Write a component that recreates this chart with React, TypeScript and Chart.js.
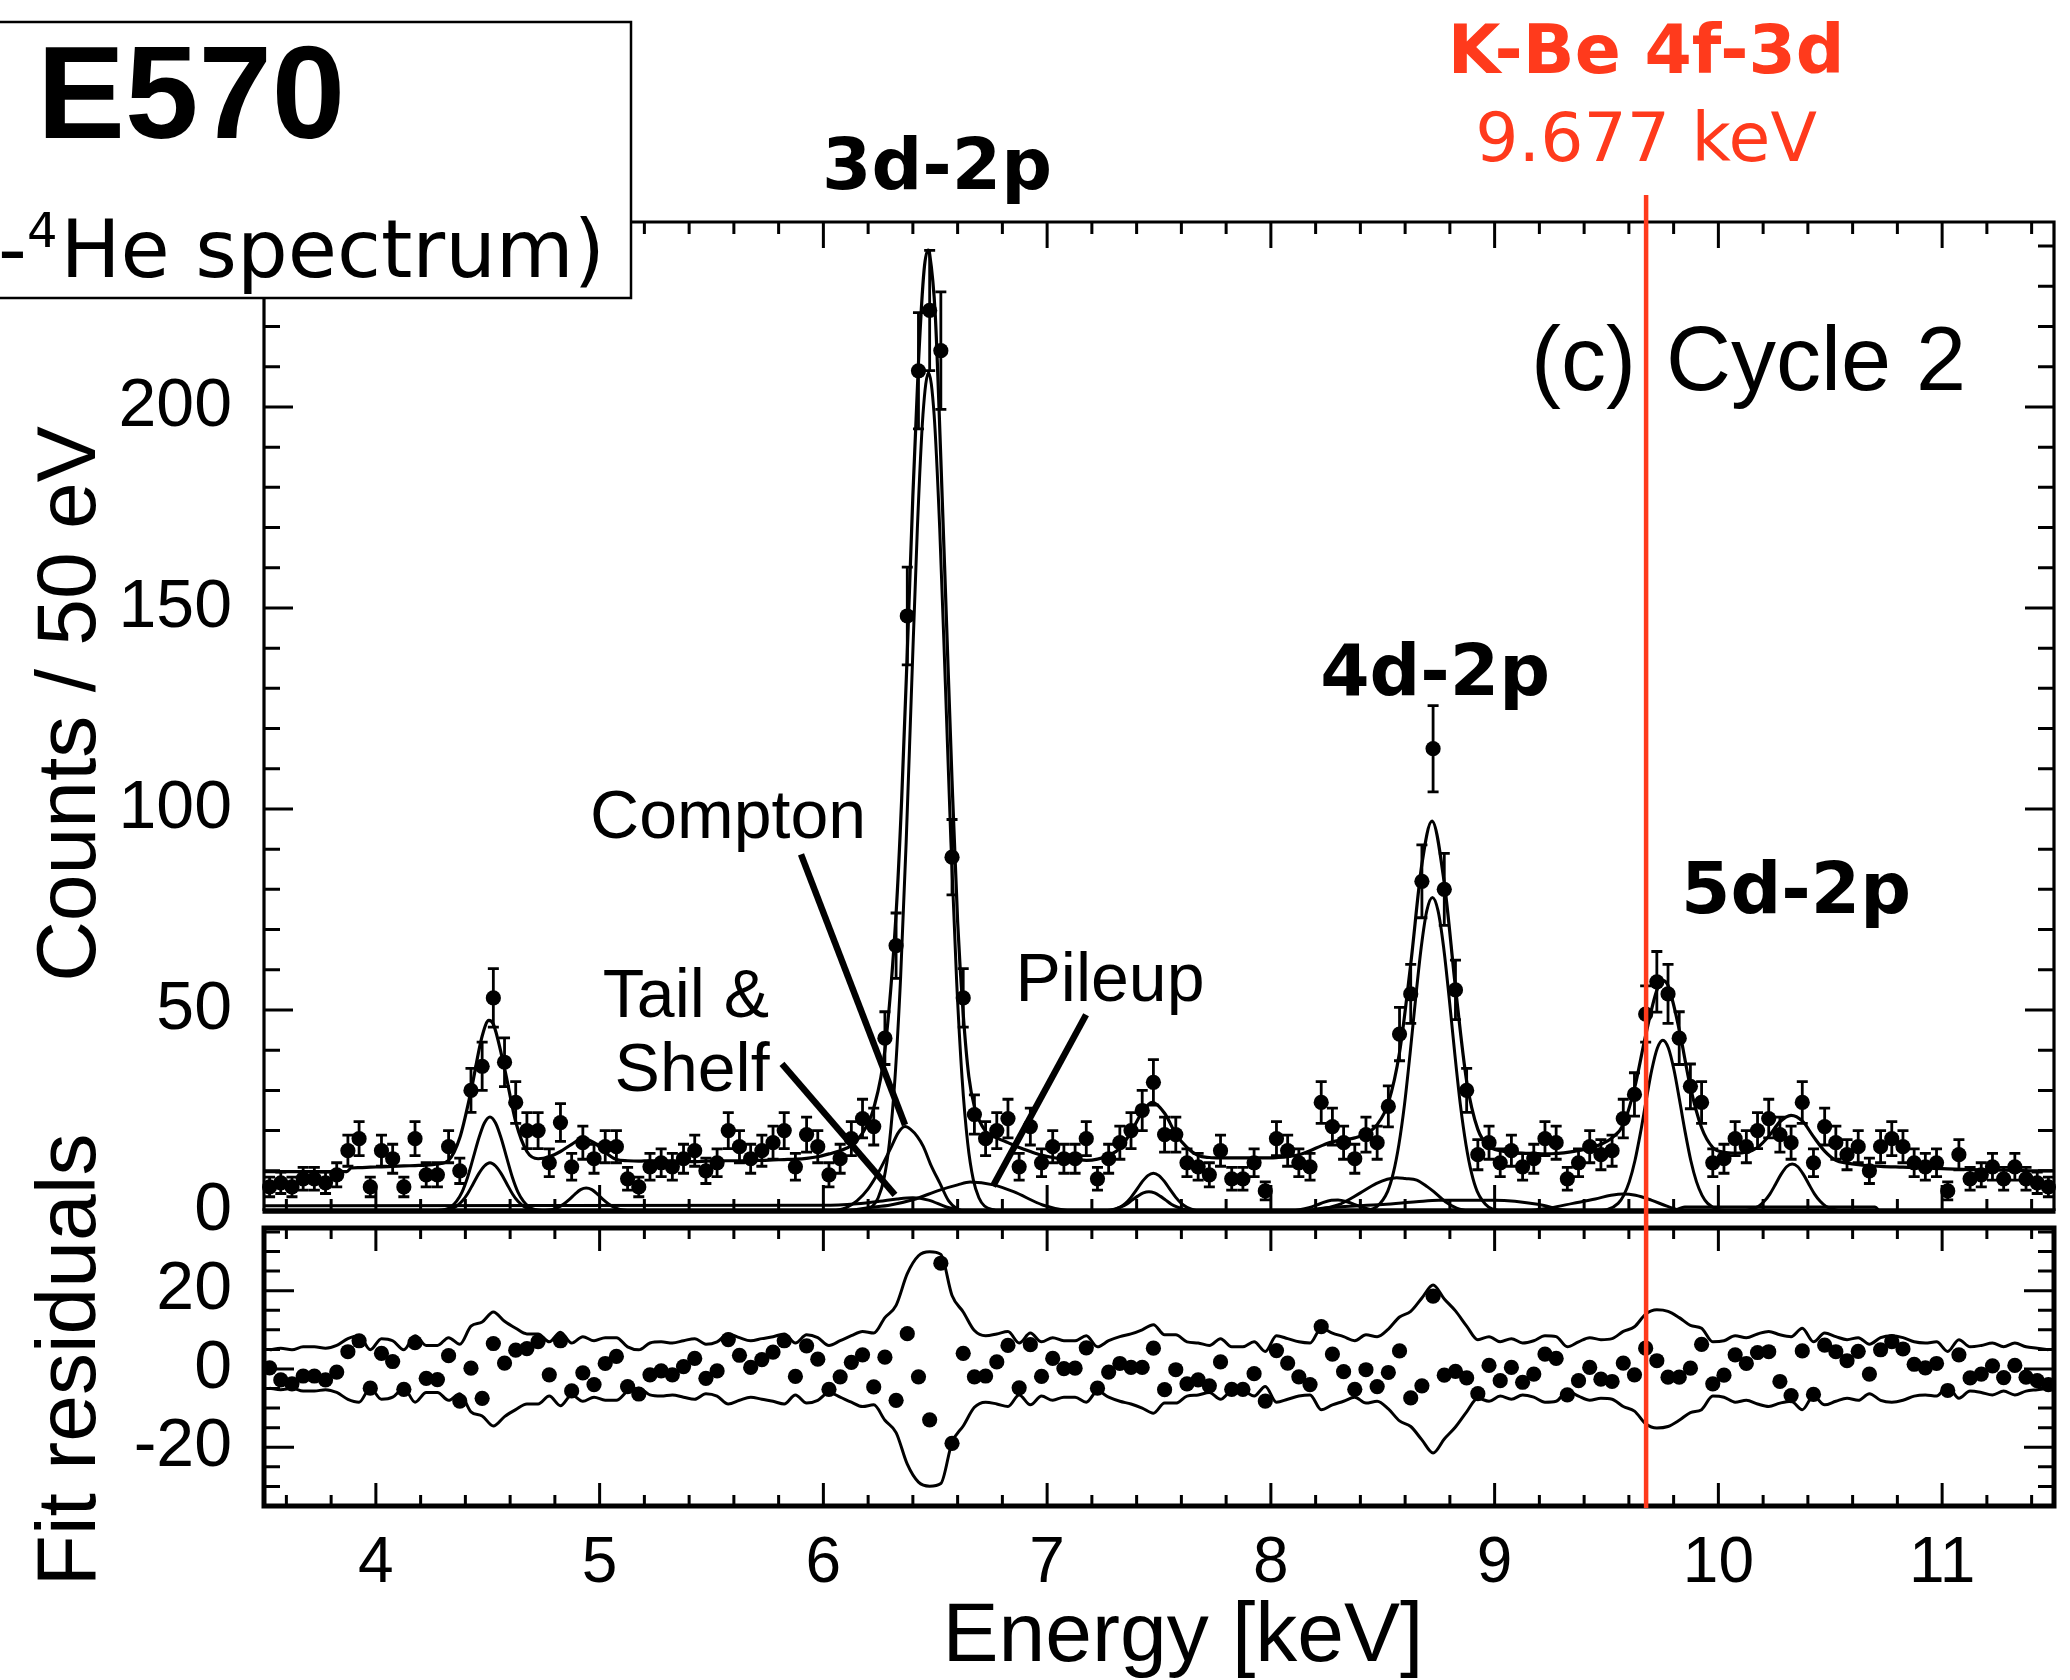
import { useEffect, useRef } from "react";
import { Chart, registerables } from "chart.js";

Chart.register(...registerables);

// ---------------- data ----------------
const binCenters = [
  3.525, 3.575, 3.625, 3.675, 3.725, 3.775, 3.825, 3.875, 3.925, 3.975,
  4.025, 4.075, 4.125, 4.175, 4.225, 4.275, 4.325, 4.375, 4.425, 4.475,
  4.525, 4.575, 4.625, 4.675, 4.725, 4.775, 4.825, 4.875, 4.925, 4.975,
  5.025, 5.075, 5.125, 5.175, 5.225, 5.275, 5.325, 5.375, 5.425, 5.475,
  5.525, 5.575, 5.625, 5.675, 5.725, 5.775, 5.825, 5.875, 5.925, 5.975,
  6.025, 6.075, 6.125, 6.175, 6.225, 6.275, 6.325, 6.375, 6.425, 6.475,
  6.525, 6.575, 6.625, 6.675, 6.725, 6.775, 6.825, 6.875, 6.925, 6.975,
  7.025, 7.075, 7.125, 7.175, 7.225, 7.275, 7.325, 7.375, 7.425, 7.475,
  7.525, 7.575, 7.625, 7.675, 7.725, 7.775, 7.825, 7.875, 7.925, 7.975,
  8.025, 8.075, 8.125, 8.175, 8.225, 8.275, 8.325, 8.375, 8.425, 8.475,
  8.525, 8.575, 8.625, 8.675, 8.725, 8.775, 8.825, 8.875, 8.925, 8.975,
  9.025, 9.075, 9.125, 9.175, 9.225, 9.275, 9.325, 9.375, 9.425, 9.475,
  9.525, 9.575, 9.625, 9.675, 9.725, 9.775, 9.825, 9.875, 9.925, 9.975,
  10.025, 10.075, 10.125, 10.175, 10.225, 10.275, 10.325, 10.375, 10.425, 10.475,
  10.525, 10.575, 10.625, 10.675, 10.725, 10.775, 10.825, 10.875, 10.925, 10.975,
  11.025, 11.075, 11.125, 11.175, 11.225, 11.275, 11.325, 11.375, 11.425, 11.475,
];

const counts = [
  6, 7, 6, 8, 8, 7, 9, 15, 18, 6,
  15, 13, 6, 18, 9, 9, 16, 10, 30, 36,
  53, 37, 27, 20, 20, 12, 22, 11, 17, 13,
  16, 16, 8, 6, 11, 12, 11, 13, 15, 10,
  12, 20, 16, 13, 15, 17, 20, 11, 19, 16,
  9, 13, 18, 23, 21, 43, 66, 148, 209, 224,
  214, 88, 53, 24, 18, 20, 23, 11, 21, 12,
  16, 13, 13, 18, 8, 13, 17, 20, 25, 32,
  19, 19, 12, 11, 9, 15, 8, 8, 12, 5,
  18, 15, 12, 11, 27, 21, 17, 13, 19, 17,
  26, 44, 54, 82, 115, 80, 55, 30, 14, 17,
  12, 15, 11, 13, 18, 17, 8, 12, 16, 14,
  15, 23, 29, 49, 57, 54, 43, 31, 27, 12,
  13, 18, 16, 20, 23, 19, 17, 27, 12, 21,
  17, 14, 16, 10, 16, 18, 16, 12, 11, 12,
  5, 14, 8, 9, 11, 8, 11, 8, 7, 6,
];

const residuals = [
  0.3, -2.8, -3.8, -1.8, -1.8, -2.8, -0.8, 4.4, 7.2, -4.9,
  4.0, 1.9, -5.2, 6.7, -2.4, -2.7, 3.4, -8.2, 0.2, -7.5,
  6.5, 1.5, 4.8, 5.2, 7.0, -1.5, 7.2, -5.6, -1.0, -4.0,
  1.4, 3.2, -4.5, -6.4, -1.5, -0.5, -1.5, 0.6, 2.7, -2.4,
  -0.5, 7.5, 3.5, 0.4, 2.4, 4.3, 7.2, -1.9, 5.9, 2.5,
  -5.2, -2.0, 1.7, 3.6, -4.6, 3.0, -8.0, 9.0, -2.0, -13.0,
  27.0, -19.0, 4.0, -2.0, -1.8, 1.8, 6.0, -4.8, 6.2, -1.9,
  2.7, 0.1, 0.2, 5.4, -4.9, -0.8, 1.4, 0.4, 0.4, 5.3,
  -5.3, -0.2, -3.8, -2.8, -4.3, 1.8, -5.2, -5.2, -1.2, -8.2,
  4.7, 1.5, -2.0, -4.0, 10.8, 3.8, -0.7, -5.2, -0.2, -4.5,
  -0.9, 4.6, -7.4, -4.3, 18.6, -1.6, -0.6, -2.3, -6.3, 0.9,
  -3.0, 0.4, -3.4, -1.3, 3.8, 2.7, -6.6, -3.0, 0.4, -2.6,
  -3.2, 1.5, -1.5, 5.3, 2.1, -2.1, -2.1, 0.2, 6.3, -3.8,
  -1.6, 3.6, 1.4, 4.2, 4.4, -3.2, -6.8, 4.6, -6.5, 6.1,
  4.4, 2.1, 4.5, -1.3, 4.9, 7.0, 5.1, 1.2, 0.3, 1.4,
  -5.5, 3.6, -2.3, -1.3, 0.8, -2.2, 0.9, -2.1, -3.0, -4.0,
];

// total fit curve, [energy keV, counts]
const fitTotal: [number, number][] = [
  [3.5, 9.8], [3.525, 9.8], [3.575, 9.8], [3.625, 9.8], [3.675, 9.8], [3.725, 9.8], [3.775, 9.8], [3.825, 9.8], [3.87, 9.8], [3.89, 10.7], [3.925, 10.8], [3.975, 10.9],
  [4.025, 11.0], [4.075, 11.1], [4.125, 11.2], [4.175, 11.3], [4.225, 11.4], [4.275, 11.7], [4.325, 12.6], [4.375, 18.2], [4.425, 29.8], [4.475, 43.5], [4.505, 47.4], [4.525, 46.5], [4.575, 35.5], [4.625, 22.2], [4.675, 14.8], [4.725, 13.0], [4.775, 13.5], [4.825, 14.8], [4.875, 16.6], [4.925, 18.0], [4.975, 17.0],
  [5.025, 14.6], [5.075, 12.8], [5.125, 12.5], [5.175, 12.4], [5.225, 12.5], [5.275, 12.5], [5.325, 12.5], [5.375, 12.4], [5.425, 12.3], [5.475, 12.4], [5.525, 12.5], [5.575, 12.5], [5.625, 12.5], [5.675, 12.6], [5.725, 12.6], [5.775, 12.7], [5.825, 12.8], [5.875, 12.9], [5.925, 13.1], [5.975, 13.5],
  [6.025, 14.2], [6.075, 15.0], [6.125, 16.3], [6.175, 19.4], [6.225, 25.6], [6.275, 40], [6.325, 74], [6.35, 102.5], [6.375, 139], [6.4, 178], [6.425, 211], [6.45, 234], [6.468, 239], [6.475, 238], [6.5, 223], [6.525, 187], [6.55, 147], [6.575, 107], [6.6, 72], [6.625, 49], [6.65, 33.5], [6.675, 26], [6.725, 19.8], [6.775, 18.2], [6.825, 17.0], [6.875, 15.8], [6.925, 14.8], [6.975, 13.9],
  [7.025, 13.3], [7.075, 12.9], [7.125, 12.8], [7.175, 12.6], [7.225, 12.9], [7.275, 13.8], [7.325, 15.6], [7.375, 19.6], [7.425, 24.6], [7.47, 27.0], [7.525, 24.3], [7.575, 19.2], [7.625, 15.8], [7.675, 13.8], [7.725, 13.3], [7.775, 13.2], [7.875, 13.2], [7.975, 13.2],
  [8.025, 13.3], [8.075, 13.5], [8.125, 14.0], [8.175, 15.0], [8.225, 16.2], [8.275, 17.2], [8.325, 17.7], [8.375, 18.2], [8.425, 19.2], [8.475, 21.5], [8.525, 26.9], [8.575, 39.4], [8.625, 61.4], [8.675, 86.3], [8.72, 97.0], [8.775, 81.6], [8.825, 55.6], [8.875, 32.3], [8.925, 20.3], [8.975, 16.1],
  [9.025, 15.0], [9.075, 14.6], [9.125, 14.4], [9.175, 14.3], [9.225, 14.2], [9.275, 14.3], [9.325, 14.6], [9.375, 15.0], [9.425, 15.6], [9.475, 16.6], [9.525, 18.2], [9.575, 21.5], [9.625, 30.5], [9.675, 43.7], [9.725, 54.9], [9.752, 57.3], [9.775, 56.1], [9.825, 45.1], [9.875, 30.8], [9.925, 20.7], [9.975, 15.8],
  [10.025, 14.6], [10.075, 14.4], [10.125, 14.6], [10.175, 15.8], [10.225, 18.6], [10.275, 22.2], [10.325, 23.8], [10.375, 22.4], [10.425, 18.5], [10.475, 14.9], [10.525, 12.6], [10.575, 11.9], [10.625, 11.5], [10.725, 11.1], [10.825, 10.9], [10.925, 10.7],
  [11.025, 10.5], [11.125, 10.3], [11.225, 10.2], [11.325, 10.1], [11.425, 10.0], [11.5, 10.0],
];

// fit components
const comp45a: [number, number][] = [[4.26, 0], [4.31, 0.4], [4.335, 1.0], [4.36, 2.4], [4.385, 4.7], [4.41, 8.4], [4.435, 13.2], [4.46, 18.1], [4.485, 21.9], [4.51, 23.4], [4.535, 21.9], [4.56, 18.1], [4.585, 13.2], [4.61, 8.4], [4.635, 4.7], [4.66, 2.4], [4.685, 1.0], [4.71, 0.4], [4.76, 0]];
const comp45b: [number, number][] = [[4.26, 0], [4.31, 0.2], [4.335, 0.5], [4.36, 1.2], [4.385, 2.4], [4.41, 4.3], [4.435, 6.8], [4.46, 9.3], [4.485, 11.2], [4.51, 12], [4.535, 11.2], [4.56, 9.3], [4.585, 6.8], [4.61, 4.3], [4.635, 2.4], [4.66, 1.2], [4.685, 0.5], [4.71, 0.2], [4.76, 0]];
const comp49: [number, number][] = [[4.74, 0], [4.79, 0.4], [4.815, 0.9], [4.84, 1.75], [4.865, 2.9], [4.89, 4.2], [4.915, 5.3], [4.94, 5.7], [4.965, 5.3], [4.99, 4.2], [5.015, 2.9], [5.04, 1.75], [5.065, 0.9], [5.09, 0.4], [5.14, 0]];
const peak3d: [number, number][] = [[6.17, 0.1], [6.22, 1.25], [6.245, 3.3], [6.27, 7.8], [6.295, 16.9], [6.32, 33], [6.345, 57.9], [6.37, 91.7], [6.395, 131.4], [6.42, 169.7], [6.445, 198], [6.47, 208.5], [6.495, 198], [6.52, 169.7], [6.545, 131.4], [6.57, 91.7], [6.595, 57.9], [6.62, 33], [6.645, 16.9], [6.67, 7.8], [6.695, 3.3], [6.72, 1.25], [6.77, 0.1]];
const compton: [number, number][] = [[6.05, 0], [6.1, 0.8], [6.15, 2.5], [6.2, 5.5], [6.25, 10], [6.3, 15.5], [6.335, 19.5], [6.365, 21], [6.39, 20.3], [6.42, 18.5], [6.447, 16], [6.48, 11.5], [6.52, 7], [6.56, 2.5], [6.6, 0.4], [6.63, 0]];
const pileup: [number, number][] = [[6.1, 0], [6.2, 0.8], [6.3, 1.5], [6.4, 2.8], [6.52, 5.2], [6.6, 6.5], [6.656, 7.2], [6.76, 6.5], [6.85, 4.8], [6.98, 1.5], [7.08, 0.2], [7.15, 0]];
const tailShelf: [number, number][] = [[3.5, 1.3], [6.0, 1.4], [6.15, 1.8], [6.25, 2.4], [6.33, 3.0], [6.4, 3.3], [6.47, 2.7], [6.55, 1.0], [6.62, 0.1], [6.7, 0]];
const comp74a: [number, number][] = [[7.24, 0], [7.29, 0.2], [7.325, 0.9], [7.35, 1.9], [7.375, 3.4], [7.4, 5.3], [7.425, 7.3], [7.45, 8.8], [7.475, 9.4], [7.5, 8.8], [7.525, 7.3], [7.55, 5.3], [7.575, 3.4], [7.6, 1.9], [7.625, 0.9], [7.66, 0.2], [7.71, 0]];
const comp74b: [number, number][] = [[7.22, 0], [7.27, 0.1], [7.305, 0.5], [7.33, 1.0], [7.355, 1.7], [7.38, 2.7], [7.405, 3.7], [7.43, 4.5], [7.455, 4.8], [7.48, 4.5], [7.505, 3.7], [7.53, 2.7], [7.555, 1.7], [7.58, 1.0], [7.605, 0.5], [7.64, 0.1], [7.69, 0]];
const comp83: [number, number][] = [[8.1, 0], [8.17, 0.8], [8.22, 1.8], [8.27, 2.7], [8.3, 2.75], [8.34, 2.3], [8.4, 1.1], [8.46, 0.2], [8.5, 0]];
const comp86: [number, number][] = [[8.15, 0], [8.2, 0.3], [8.3, 1.5], [8.4, 4.5], [8.47, 6.8], [8.52, 7.9], [8.562, 8.3], [8.6, 8.1], [8.652, 7.7], [8.7, 6], [8.728, 4.8], [8.78, 2.3], [8.83, 0.7], [8.88, 0]];
const peak4d: [number, number][] = [[8.372, 0], [8.422, 0.15], [8.472, 1.0], [8.522, 4.9], [8.547, 9.4], [8.572, 16.5], [8.597, 26.4], [8.622, 39.1], [8.647, 52.9], [8.672, 65.6], [8.697, 74.7], [8.722, 78], [8.747, 74.7], [8.772, 65.6], [8.797, 52.9], [8.822, 39.1], [8.847, 26.4], [8.872, 16.5], [8.897, 9.4], [8.922, 4.9], [8.972, 1.0], [9.022, 0.15], [9.072, 0]];
const shelf4d: [number, number][] = [[8.15, 0], [8.25, 0.8], [8.5, 1.6], [8.65, 2.3], [8.75, 2.7], [9.0, 2.7], [9.2, 1.6], [9.3, 0.3], [9.35, 0]];
const comp96: [number, number][] = [[9.15, 0], [9.25, 0.8], [9.35, 1.9], [9.45, 3.0], [9.52, 3.9], [9.575, 4.25], [9.63, 3.9], [9.7, 2.7], [9.77, 1.2], [9.82, 0.3], [9.86, 0]];
const peak5d: [number, number][] = [[9.452, 0], [9.502, 0.3], [9.552, 1.9], [9.577, 3.9], [9.602, 7.3], [9.627, 12.5], [9.652, 19.5], [9.677, 27.4], [9.702, 35], [9.727, 40.5], [9.752, 42.5], [9.777, 40.5], [9.802, 35], [9.827, 27.4], [9.852, 19.5], [9.877, 12.5], [9.902, 7.3], [9.927, 3.9], [9.952, 1.9], [10.002, 0.3], [10.052, 0]];
const shelf5d: [number, number][] = [[9.8, 0], [9.85, 1.0], [10.7, 1.0], [10.72, 0]];
const comp103: [number, number][] = [[10.08, 0], [10.13, 0.2], [10.18, 1.2], [10.205, 2.4], [10.23, 4.2], [10.255, 6.6], [10.28, 9.1], [10.305, 11], [10.33, 11.7], [10.355, 11], [10.38, 9.1], [10.405, 6.6], [10.43, 4.2], [10.455, 2.4], [10.48, 1.2], [10.53, 0.2], [10.58, 0]];

const components = [comp45a, comp45b, comp49, peak3d, compton, pileup, tailShelf, comp74a, comp74b, comp83, comp86, peak4d, shelf4d, comp96, peak5d, shelf5d, comp103];

// axes
const energyRange = [3.5, 11.5];
const countRange = [0, 246];
const residualRange = [-35, 36];
const xTickValues = [4, 5, 6, 7, 8, 9, 10, 11];
const yCountTicks = [0, 50, 100, 150, 200];
const yResidualTicks = [-20, 0, 20];
const kBeEnergy = 9.677;

// ---------------- styles ----------------
const SANS = "'Liberation Sans', Arial, sans-serif";
const WIDE = "'DejaVu Sans', Verdana, sans-serif";
const RED = "#ff3a1c";
const DOT = 7.6;

const curve = (pts: [number, number][], width = 3) => ({
  data: pts.map(([x, y]) => ({ x, y })),
  borderColor: "#000",
  borderWidth: width,
  pointRadius: 0,
  fill: false,
  showLine: true,
  cubicInterpolationMode: "monotone" as const,
});

function drawTicks(chart: any, o: any) {
  const { ctx, chartArea: a, scales } = chart;
  const x = scales.x, y = scales.y;
  ctx.save();
  ctx.strokeStyle = "#000";
  ctx.lineWidth = 3;
  ctx.beginPath();
  for (let k = 18; k <= 57; k++) {
    const e = k / 5;
    const major = k % 5 === 0;
    const X = x.getPixelForValue(e);
    const L = major ? o.xMajor : o.xMinor;
    ctx.moveTo(X, a.bottom); ctx.lineTo(X, a.bottom - L);
    ctx.moveTo(X, a.top); ctx.lineTo(X, a.top + L);
  }
  for (let v = o.yStart; v <= o.yEnd; v += o.yStep) {
    const major = v % o.yMajorStep === 0;
    const Y = y.getPixelForValue(v);
    const L = major ? o.yMajor : o.yMinor;
    ctx.moveTo(a.left, Y); ctx.lineTo(a.left + L, Y);
    ctx.moveTo(a.right, Y); ctx.lineTo(a.right - L, Y);
  }
  ctx.stroke();
  ctx.restore();
}

const topDecor = {
  id: "topDecor",
  afterDatasetsDraw(chart: any) {
    const { ctx, scales } = chart;
    const x = scales.x, y = scales.y;
    ctx.save();
    ctx.strokeStyle = "#000";
    ctx.lineWidth = 2.8;
    ctx.beginPath();
    for (let i = 0; i < binCenters.length; i++) {
      const c = counts[i];
      const err = Math.sqrt(c);
      const X = x.getPixelForValue(binCenters[i]);
      const y1 = y.getPixelForValue(c - err);
      const y2 = y.getPixelForValue(c + err);
      ctx.moveTo(X, y1); ctx.lineTo(X, y2);
      ctx.moveTo(X - 5.5, y1); ctx.lineTo(X + 5.5, y1);
      ctx.moveTo(X - 5.5, y2); ctx.lineTo(X + 5.5, y2);
    }
    ctx.stroke();
    ctx.restore();
  },
  afterDraw(chart: any) {
    const { ctx, chartArea: a, scales } = chart;
    const x = scales.x, y = scales.y;
    const X = (e: number) => x.getPixelForValue(e);
    const Y = (v: number) => y.getPixelForValue(v);

    drawTicks(chart, { xMajor: 26, xMinor: 12, yStart: 0, yEnd: 240, yStep: 10, yMajorStep: 50, yMajor: 29, yMinor: 16 });

    ctx.save();
    ctx.strokeStyle = "#000";
    ctx.lineWidth = 3.2;
    ctx.beginPath();
    ctx.moveTo(a.left, a.bottom); ctx.lineTo(a.left, a.top);
    ctx.lineTo(a.right, a.top); ctx.lineTo(a.right, a.bottom);
    ctx.stroke();
    ctx.lineWidth = 5.5;
    ctx.beginPath();
    ctx.moveTo(a.left - 1.5, a.bottom); ctx.lineTo(a.right + 1.5, a.bottom);
    ctx.stroke();

    // leader lines
    ctx.lineWidth = 6.5;
    ctx.lineCap = "butt";
    const lead = (e1: number, c1: number, e2: number, c2: number) => {
      ctx.beginPath(); ctx.moveTo(X(e1), Y(c1)); ctx.lineTo(X(e2), Y(c2)); ctx.stroke();
    };
    lead(5.900, 88.7, 6.365, 21.4);
    lead(5.815, 36.6, 6.320, 4.0);
    lead(7.174, 48.8, 6.758, 6.2);

    // annotations
    ctx.fillStyle = "#000";
    ctx.textBaseline = "alphabetic";
    ctx.textAlign = "center";
    ctx.font = `bold 71px ${WIDE}`;
    ctx.fillText("3d-2p", X(6.508), Y(254.2));
    ctx.fillText("4d-2p", X(8.734), Y(128.3));
    ctx.fillText("5d-2p", X(10.347), Y(74.0));

    ctx.font = `68px ${SANS}`;
    ctx.fillText("Compton", X(5.574), Y(92.9));
    ctx.fillText("Tail &", X(5.386), Y(48.3));
    ctx.fillText("Shelf", X(5.413), Y(29.9));
    ctx.fillText("Pileup", X(7.281), Y(52.3));

    ctx.textAlign = "left";
    ctx.font = `90px ${SANS}`;
    ctx.fillText("(c)", X(9.163), Y(204.3));
    ctx.fillText("Cycle 2", X(9.766), Y(204.3));

    ctx.textAlign = "center";
    ctx.fillStyle = RED;
    ctx.font = `bold 68px ${WIDE}`;
    ctx.fillText("K-Be 4f-3d", X(kBeEnergy), 73);
    ctx.font = `68px ${WIDE}`;
    ctx.fillText(`${kBeEnergy} keV`, X(kBeEnergy), 161);

    // y axis title
    ctx.fillStyle = "#000";
    ctx.font = `84px ${SANS}`;
    ctx.save();
    ctx.translate(95, 704);
    ctx.rotate(-Math.PI / 2);
    ctx.textAlign = "center";
    ctx.fillText("Counts / 50 eV", 0, 0);
    ctx.restore();

    // experiment box
    ctx.fillStyle = "#fff";
    ctx.fillRect(-10, 22, 641, 276);
    ctx.strokeStyle = "#000";
    ctx.lineWidth = 2.5;
    ctx.strokeRect(-10, 22, 641, 276);
    ctx.fillStyle = "#000";
    ctx.textAlign = "left";
    ctx.font = `bold 132px ${SANS}`;
    ctx.fillText("E570", 37, 138);

    const big = `80px ${WIDE}`;
    const small = `48px ${WIDE}`;
    ctx.font = big;
    const main = "He spectrum)";
    let xs = 605 - ctx.measureText(main).width;
    ctx.fillText(main, xs, 277);
    ctx.font = small;
    xs -= ctx.measureText("4").width + 3;
    ctx.fillText("4", xs, 247);
    ctx.font = big;
    xs -= ctx.measureText("-").width;
    ctx.fillText("-", xs, 277);
    ctx.font = small;
    xs -= ctx.measureText("\u2212").width;
    ctx.fillText("\u2212", xs, 240);
    ctx.font = big;
    xs -= ctx.measureText("(K").width;
    ctx.fillText("(K", xs, 277);
    ctx.restore();
  },
};

const bottomDecor = {
  id: "bottomDecor",
  afterDraw(chart: any) {
    const { ctx, chartArea: a, scales } = chart;
    drawTicks(chart, { xMajor: 23, xMinor: 11, yStart: -35, yEnd: 35, yStep: 5, yMajorStep: 20, yMajor: 30, yMinor: 16 });
    ctx.save();
    ctx.strokeStyle = "#000";
    ctx.lineWidth = 5;
    ctx.strokeRect(a.left, a.top, a.right - a.left, a.bottom - a.top);

    ctx.fillStyle = "#000";
    ctx.textBaseline = "alphabetic";
    ctx.font = `84px ${SANS}`;
    ctx.textAlign = "center";
    ctx.fillText("Energy [keV]", 1183, 1661);
    ctx.save();
    ctx.translate(95, 1360);
    ctx.rotate(-Math.PI / 2);
    ctx.fillText("Fit residuals", 0, 0);
    ctx.restore();

    const xr = scales.x.getPixelForValue(kBeEnergy);
    ctx.strokeStyle = RED;
    ctx.lineWidth = 4.5;
    ctx.beginPath();
    ctx.moveTo(xr, 195);
    ctx.lineTo(xr, a.bottom + 2);
    ctx.stroke();
    ctx.restore();
  },
};

const tickFont = (size: number) => ({ family: "'Liberation Sans'", size });

function topConfig(): any {
  return {
    type: "line",
    data: {
      datasets: [
        {
          data: binCenters.map((x, i) => ({ x, y: counts[i] })),
          showLine: false,
          pointRadius: DOT,
          pointBackgroundColor: "#000",
          pointBorderColor: "#000",
          pointBorderWidth: 0,
          clip: false,
        },
        curve(fitTotal, 3.2),
        ...components.map((c) => curve(c, 3)),
      ],
    },
    options: {
      responsive: false,
      animation: false,
      devicePixelRatio: 1,
      events: [],
      layout: { padding: { left: 0, top: 222, right: 16, bottom: 469 } },
      plugins: { legend: { display: false }, tooltip: { enabled: false } },
      scales: {
        x: { type: "linear", min: energyRange[0], max: energyRange[1], display: false },
        y: {
          type: "linear",
          min: countRange[0],
          max: countRange[1],
          afterBuildTicks: (s: any) => { s.ticks = yCountTicks.map((v) => ({ value: v })); },
          afterFit: (s: any) => { s.width = 264; },
          grid: { display: false, drawTicks: false },
          border: { display: false },
          ticks: { font: tickFont(68), color: "#000", padding: 32 },
        },
      },
    },
    plugins: [topDecor],
  };
}

function bottomConfig(): any {
  return {
    type: "line",
    data: {
      datasets: [
        {
          data: binCenters.map((x, i) => ({ x, y: residuals[i] })),
          showLine: false,
          pointRadius: DOT,
          pointBackgroundColor: "#000",
          pointBorderColor: "#000",
          pointBorderWidth: 0,
          clip: false,
        },
        curve(binCenters.map((x, i) => [x, 2 * Math.sqrt(counts[i])] as [number, number]), 3),
        curve(binCenters.map((x, i) => [x, -2 * Math.sqrt(counts[i])] as [number, number]), 3),
      ],
    },
    options: {
      responsive: false,
      animation: false,
      devicePixelRatio: 1,
      events: [],
      layout: { padding: { left: 0, top: 1228, right: 16, bottom: 54 } },
      plugins: { legend: { display: false }, tooltip: { enabled: false } },
      scales: {
        x: {
          type: "linear",
          min: energyRange[0],
          max: energyRange[1],
          afterBuildTicks: (s: any) => { s.ticks = xTickValues.map((v) => ({ value: v })); },
          afterFit: (s: any) => { s.height = 120; },
          grid: { display: false, drawTicks: false },
          border: { display: false },
          ticks: { font: tickFont(64), color: "#000", padding: 20, maxRotation: 0, autoSkip: false },
        },
        y: {
          type: "linear",
          min: residualRange[0],
          max: residualRange[1],
          afterBuildTicks: (s: any) => { s.ticks = yResidualTicks.map((v) => ({ value: v })); },
          afterFit: (s: any) => { s.width = 264; },
          grid: { display: false, drawTicks: false },
          border: { display: false },
          ticks: { font: tickFont(68), color: "#000", padding: 32 },
        },
      },
    },
    plugins: [bottomDecor],
  };
}

export default function App() {
  const topRef = useRef<HTMLCanvasElement>(null);
  const botRef = useRef<HTMLCanvasElement>(null);
  useEffect(() => {
    const top = new Chart(topRef.current as HTMLCanvasElement, topConfig());
    const bot = new Chart(botRef.current as HTMLCanvasElement, bottomConfig());
    return () => {
      top.destroy();
      bot.destroy();
    };
  }, []);
  return (
    <div style={{ position: "absolute", left: 0, top: 0, width: 2070, height: 1680, background: "#fff", overflow: "hidden" }}>
      <canvas ref={topRef} width={2070} height={1680} style={{ position: "absolute", left: 0, top: 0 }} />
      <canvas ref={botRef} width={2070} height={1680} style={{ position: "absolute", left: 0, top: 0 }} />
    </div>
  );
}
